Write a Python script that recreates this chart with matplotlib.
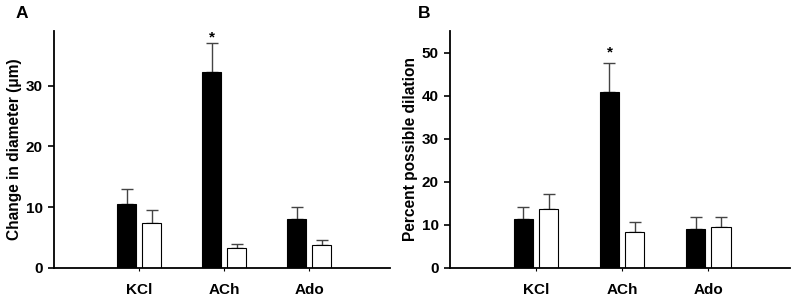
import matplotlib.pyplot as plt
import numpy as np

plt.rcParams['font.family'] = ['Liberation Sans', 'DejaVu Sans']
plt.rcParams['font.weight'] = 'bold'

# --- DỮ LIỆU ---
categories = ["KCl", "ACh", "Ado"]

# Panel A: Change in diameter (um)
a_black = [10.6, 32.2, 8.0]
a_black_err = [2.4, 4.75, 1.95]
a_white = [7.35, 3.25, 3.75]
a_white_err = [2.2, 0.65, 0.8]

# Panel B: Percent possible dilation
b_black = [11.4, 40.9, 9.1]
b_black_err = [2.7, 6.7, 2.7]
b_white = [13.6, 8.4, 9.6]
b_white_err = [3.6, 2.2, 2.2]

x = np.arange(1, len(categories) + 1)
w = 0.224
off = 0.147


def draw_panel(ax, black, black_err, white, white_err, ymax, yticks, ylabel, star_y):
    ax.bar(x - off, black, w, color='black', edgecolor='black', linewidth=0.8, zorder=2)
    ax.bar(x + off, white, w, color='white', edgecolor='black', linewidth=0.8, zorder=2)
    ekw = dict(fmt='none', ecolor='#444444', elinewidth=1.0, capsize=4, capthick=1.0, zorder=1)
    ax.errorbar(x - off, black, yerr=[np.zeros(3), black_err], **ekw)
    ax.errorbar(x + off, white, yerr=[np.zeros(3), white_err], **ekw)
    ax.text(x[1] - off, star_y, "*", ha='center', va='center', fontsize=11, fontweight='bold')

    ax.set_xlim(0, 3.95)
    ax.set_ylim(0, ymax)
    ax.set_yticks(yticks)
    ax.set_xticks(x)
    ax.set_xticklabels(categories, fontsize=11, fontweight='bold')
    ax.tick_params(axis='x', length=2, width=0.8, pad=9)
    ax.tick_params(axis='y', length=4, width=1.2, labelsize=11, pad=4)
    for lab in ax.get_yticklabels():
        lab.set_fontweight('bold')
    ax.set_ylabel(ylabel, fontsize=11.2, fontweight='bold', labelpad=3)
    ax.spines['top'].set_visible(False)
    ax.spines['right'].set_visible(False)
    ax.spines['left'].set_linewidth(1.3)
    ax.spines['bottom'].set_linewidth(1.3)


fig = plt.figure(figsize=(8, 3.01), dpi=100)
ax1 = fig.add_axes([0.0675, 0.11, 0.42, 0.787])
ax2 = fig.add_axes([0.5625, 0.11, 0.425, 0.787])

draw_panel(ax1, a_black, a_black_err, a_white, a_white_err, 39, [0, 10, 20, 30],
           "Change in diameter (\u03bcm)", 38.0)
draw_panel(ax2, b_black, b_black_err, b_white, b_white_err, 55, [0, 10, 20, 30, 40, 50],
           "Percent possible dilation", 50.0)

fig.text(0.019, 0.955, "A", fontsize=12.5, fontweight='bold', va='center')
fig.text(0.522, 0.955, "B", fontsize=12.5, fontweight='bold', va='center')

fig.savefig("out.png", dpi=100)
